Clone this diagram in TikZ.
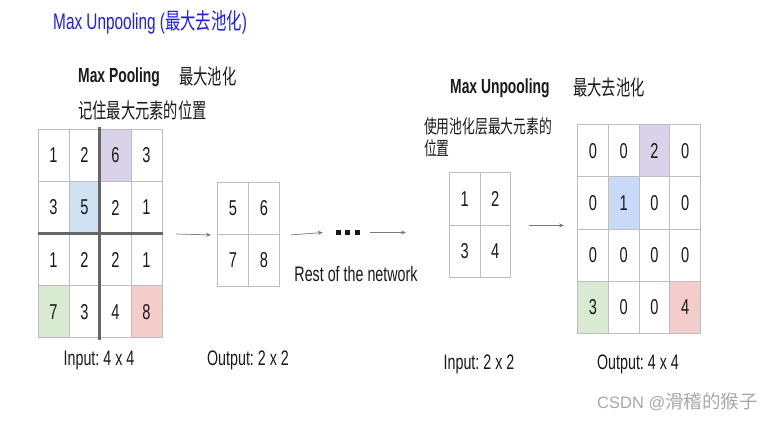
\documentclass[tikz,border=0pt]{standalone}
\usepackage{fontspec}
\setmainfont{Liberation Sans}[FakeStretch=0.68]
\newfontfamily\cjk{Noto Sans CJK SC}[FakeStretch=0.68]
\newfontfamily\wmfont{Liberation Sans}
\newfontfamily\wmcjk{Noto Sans CJK SC}
\usetikzlibrary{arrows.meta}
\frenchspacing
\definecolor{gridgray}{HTML}{BDBDBD}
\definecolor{sepgray}{HTML}{666666}
\definecolor{cpurple}{HTML}{D9D2E9}
\definecolor{cblue}{HTML}{CFE2F3}
\definecolor{cblueb}{HTML}{C9DAF8}
\definecolor{cgreen}{HTML}{D9EAD3}
\definecolor{cred}{HTML}{F4CCCC}
\definecolor{titleblue}{HTML}{1E1EF0}
\definecolor{txt}{HTML}{1A1A1A}
\definecolor{arrgray}{HTML}{7A7A7A}
\definecolor{wmgray}{HTML}{A8A8A8}
\tikzset{
  cell/.style={draw=gridgray, line width=0.9pt, minimum width=31pt, minimum height=52pt,
    inner sep=0pt, anchor=north west, text=txt, font=\fontsize{21.5}{24}\selectfont},
  cellb/.style={cell, minimum width=30.8pt, minimum height=52.3pt},
  sepline/.style={draw=sepgray, line width=2.6pt},
  arr/.style={draw=arrgray, line width=0.7pt, -{Stealth[length=5pt,width=4pt]}},
  lbl/.style={inner sep=0pt, text=txt, font=\fontsize{21}{24}\selectfont},
}
\begin{document}
\begin{tikzpicture}[x=1pt,y=-1pt]
\useasboundingbox[fill=white] (0,0) rectangle (783,421);

% title
\node[inner sep=0pt, anchor=west, text=titleblue, font=\fontsize{22.6}{26}\selectfont] (title) at (53,22) {Max Unpooling ({\cjk 最大去池化})};

% Max pooling labels
\node[lbl, anchor=west, font=\fontsize{20.4}{24}\selectfont\bfseries] (mp) at (78,77) {Max Pooling};
\node[lbl, anchor=west] (mpcn) at (179,77) {\cjk 最大池化};
\node[lbl, anchor=west] (mpdesc) at (78,110) {\cjk 记住最大元素的位置};

% left 4x4 input grid
\foreach \v/\f [count=\i from 0] in {1/white,2/white,6/cpurple,3/white,
  3/white,5/cblue,2/white,1/white,
  1/white,2/white,2/white,1/white,
  7/cgreen,3/white,4/white,8/cred}{
  \pgfmathtruncatemacro{\r}{int(\i/4)+1}
  \pgfmathtruncatemacro{\c}{mod(\i,4)+1}
  \node[cell, fill=\f] (L\r\c) at ({37.5+31*(\c-1)},{129+52.1*(\r-1)}) {\v};
}
\draw[sepline] ([yshift=2pt]L13.north west) -- ([yshift=-2pt]L43.south west);
\draw[sepline] (L31.north west) -- ([xshift=1pt]L34.north east);

% output 2x2
\foreach \v [count=\i from 0] in {5,6,7,8}{
  \pgfmathtruncatemacro{\r}{int(\i/2)+1}
  \pgfmathtruncatemacro{\c}{mod(\i,2)+1}
  \node[cell] (O\r\c) at ({217+31*(\c-1)},{182+52*(\r-1)}) {\v};
}
\draw[arr] ([xshift=13.5pt]L24.south east) -- ([xshift=-6pt]O11.south west);

% rest of network
\node[inner sep=0pt, minimum width=23pt, minimum height=5pt] (dots) at (347.5,232.5) {};
\foreach \dx in {0,9.5,19}{
  \fill[txt] ([xshift=\dx pt]dots.south west) rectangle ++(5,-5);
}
\draw[arr] ([xshift=11pt]O12.south east) -- ([xshift=-13pt]dots.west);
\coordinate (a3end) at (406,232.5);
\draw[arr] ([xshift=11pt]dots.east) -- (a3end);
\node[lbl] (rest) at (356,274) {Rest of the network};

% Max unpooling labels
\node[lbl, anchor=west, font=\fontsize{20.4}{24}\selectfont\bfseries] (mu) at (450,88) {Max Unpooling};
\node[lbl, anchor=west] (mucn) at (573,88) {\cjk 最大去池化};
\node[lbl, anchor=north west, align=left, font=\fontsize{18.8}{22}\selectfont] (mudesc) at (424,117) {\cjk 使用池化层最大元素的\\\cjk 位置};

% middle 2x2
\foreach \v [count=\i from 0] in {1,2,3,4}{
  \pgfmathtruncatemacro{\r}{int(\i/2)+1}
  \pgfmathtruncatemacro{\c}{mod(\i,2)+1}
  \node[cell, minimum width=30.5pt, minimum height=52.5pt] (M\r\c) at ({449+30.5*(\c-1)},{172+52.5*(\r-1)}) {\v};
}

% right 4x4 output grid
\foreach \v/\f [count=\i from 0] in {0/white,0/white,2/cpurple,0/white,
  0/white,1/cblueb,0/white,0/white,
  0/white,0/white,0/white,0/white,
  3/cgreen,0/white,0/white,4/cred}{
  \pgfmathtruncatemacro{\r}{int(\i/4)+1}
  \pgfmathtruncatemacro{\c}{mod(\i,4)+1}
  \node[cellb, fill=\f] (R\r\c) at ({577+30.8*(\c-1)},{124+52.3*(\r-1)}) {\v};
}
\draw[arr] ([xshift=18pt]M12.south east) -- ([xshift=-13pt]R11.west |- M12.south east);

% captions
\node[lbl] (in1) at (99,360) {Input: 4 x 4};
\node[lbl] (out1) at (248,360) {Output: 2 x 2};
\node[lbl] (in2) at (479,364) {Input: 2 x 2};
\node[lbl] (out2) at (638,364) {Output: 4 x 4};

% watermark
\node[inner sep=0pt, anchor=west, text=wmgray] (wm) at (597,402) {\wmfont\fontsize{16.5}{20}\selectfont CSDN @\wmcjk\fontsize{18.5}{20}\selectfont 滑稽的猴子};
\end{tikzpicture}
\end{document}
